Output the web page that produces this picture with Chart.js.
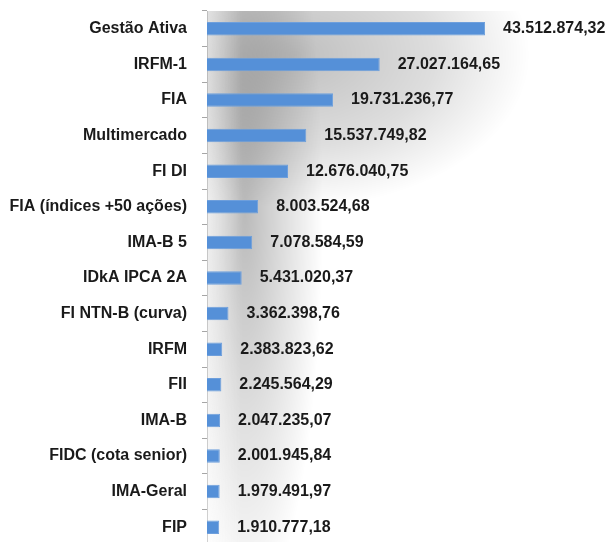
<!DOCTYPE html>
<html>
<head>
<meta charset="utf-8">
<script src="https://cdn.jsdelivr.net/npm/chart.js@4"></script>
<style>
  html, body { margin: 0; padding: 0; background: #fff; overflow: hidden; }
  #wrap { width: 616px; height: 545px; }
</style>
</head>
<body>
<div id="wrap"><canvas id="fundosChart" width="616" height="545"></canvas></div>
<script>
// categorias e valores (R$)
const categorias = ['Gestão Ativa', 'IRFM-1', 'FIA', 'Multimercado', 'FI DI',
    'FIA (índices +50 ações)', 'IMA-B 5', 'IDkA IPCA 2A', 'FI NTN-B (curva)', 'IRFM',
    'FII', 'IMA-B', 'FIDC (cota senior)', 'IMA-Geral', 'FIP'];
const valores = [43512874.32, 27027164.65, 19731236.77, 15537749.82, 12676040.75,
    8003524.68, 7078584.59, 5431020.37, 3362398.76, 2383823.62,
    2245564.29, 2047235.07, 2001945.84, 1979491.97, 1910777.18];

const FONTE = '"Liberation Sans", Arial, sans-serif';

function fmtBR(v) {
    const partes = v.toFixed(2).split('.');
    return partes[0].replace(/\B(?=(\d{3})+(?!\d))/g, '.') + ',' + partes[1];
}

// sombra cinza atras das barras
const sombra = {
    id: 'sombra',
    beforeDatasetsDraw(chart) {
        const { ctx, chartArea: a } = chart;
        ctx.save();
        ctx.beginPath();
        ctx.rect(a.left, a.top, a.right - a.left, a.bottom - a.top);
        ctx.clip();

        // parte larga no topo
        ctx.save();
        ctx.translate(295, 55);
        ctx.scale(1, 0.65);
        let g = ctx.createRadialGradient(0, 0, 0, 0, 0, 235);
        g.addColorStop(0, 'rgba(0,0,0,0.25)');
        g.addColorStop(0.6, 'rgba(0,0,0,0.13)');
        g.addColorStop(1, 'rgba(0,0,0,0)');
        ctx.fillStyle = g;
        ctx.fillRect(-400, -400, 800, 800);
        ctx.restore();

        // faixa estreita ao longo do eixo
        ctx.save();
        ctx.translate(245, 210);
        ctx.scale(1, 5.2);
        g = ctx.createRadialGradient(0, 0, 0, 0, 0, 78);
        g.addColorStop(0, 'rgba(0,0,0,0.27)');
        g.addColorStop(0.5, 'rgba(0,0,0,0.13)');
        g.addColorStop(1, 'rgba(0,0,0,0)');
        ctx.fillStyle = g;
        ctx.fillRect(-200, -100, 400, 200);
        ctx.restore();

        // clarear junto ao eixo
        g = ctx.createLinearGradient(a.left, 0, a.left + 35, 0);
        g.addColorStop(0, 'rgba(255,255,255,0.5)');
        g.addColorStop(1, 'rgba(255,255,255,0)');
        ctx.fillStyle = g;
        ctx.fillRect(a.left, a.top, 35, a.bottom - a.top);

        ctx.restore();
    }
};

// rotulos de valor
const rotulos = {
    id: 'rotulos',
    afterDatasetsDraw(chart) {
        const { ctx } = chart;
        const meta = chart.getDatasetMeta(0);
        ctx.save();
        ctx.font = 'bold 16px ' + FONTE;
        ctx.fillStyle = '#1a1a1a';
        ctx.textAlign = 'left';
        ctx.textBaseline = 'middle';
        meta.data.forEach((bar, i) => {
            ctx.fillText(fmtBR(valores[i]), bar.x + 18, bar.y);
        });
        ctx.restore();
    }
};

const ctx = document.getElementById('fundosChart').getContext('2d');
new Chart(ctx, {
    type: 'bar',
    data: {
        labels: categorias,
        datasets: [{
            data: valores,
            backgroundColor: '#5590d8',
            borderColor: '#6e9fdc',
            borderWidth: 1,
            barPercentage: 1,
            categoryPercentage: 0.38
        }]
    },
    options: {
        indexAxis: 'y',
        responsive: false,
        animation: false,
        layout: { padding: { top: 11, right: 0, bottom: 0, left: 0 } },
        plugins: {
            legend: { display: false },
            tooltip: { enabled: false }
        },
        scales: {
            x: {
                display: false,
                min: 0,
                max: 64000000
            },
            y: {
                grid: { drawOnChartArea: false, tickLength: 5, color: '#a6a6a6', offset: true },
                border: { color: '#a6a6a6' },
                ticks: {
                    color: '#1a1a1a',
                    padding: 15,
                    font: { family: FONTE, size: 16, weight: 'bold' }
                },
                afterFit(scale) {
                    scale.width = 207;
                    scale.paddingTop = 0;
                    scale.paddingBottom = 0;
                }
            }
        }
    },
    plugins: [sombra, rotulos]
});
</script>
</body>
</html>
